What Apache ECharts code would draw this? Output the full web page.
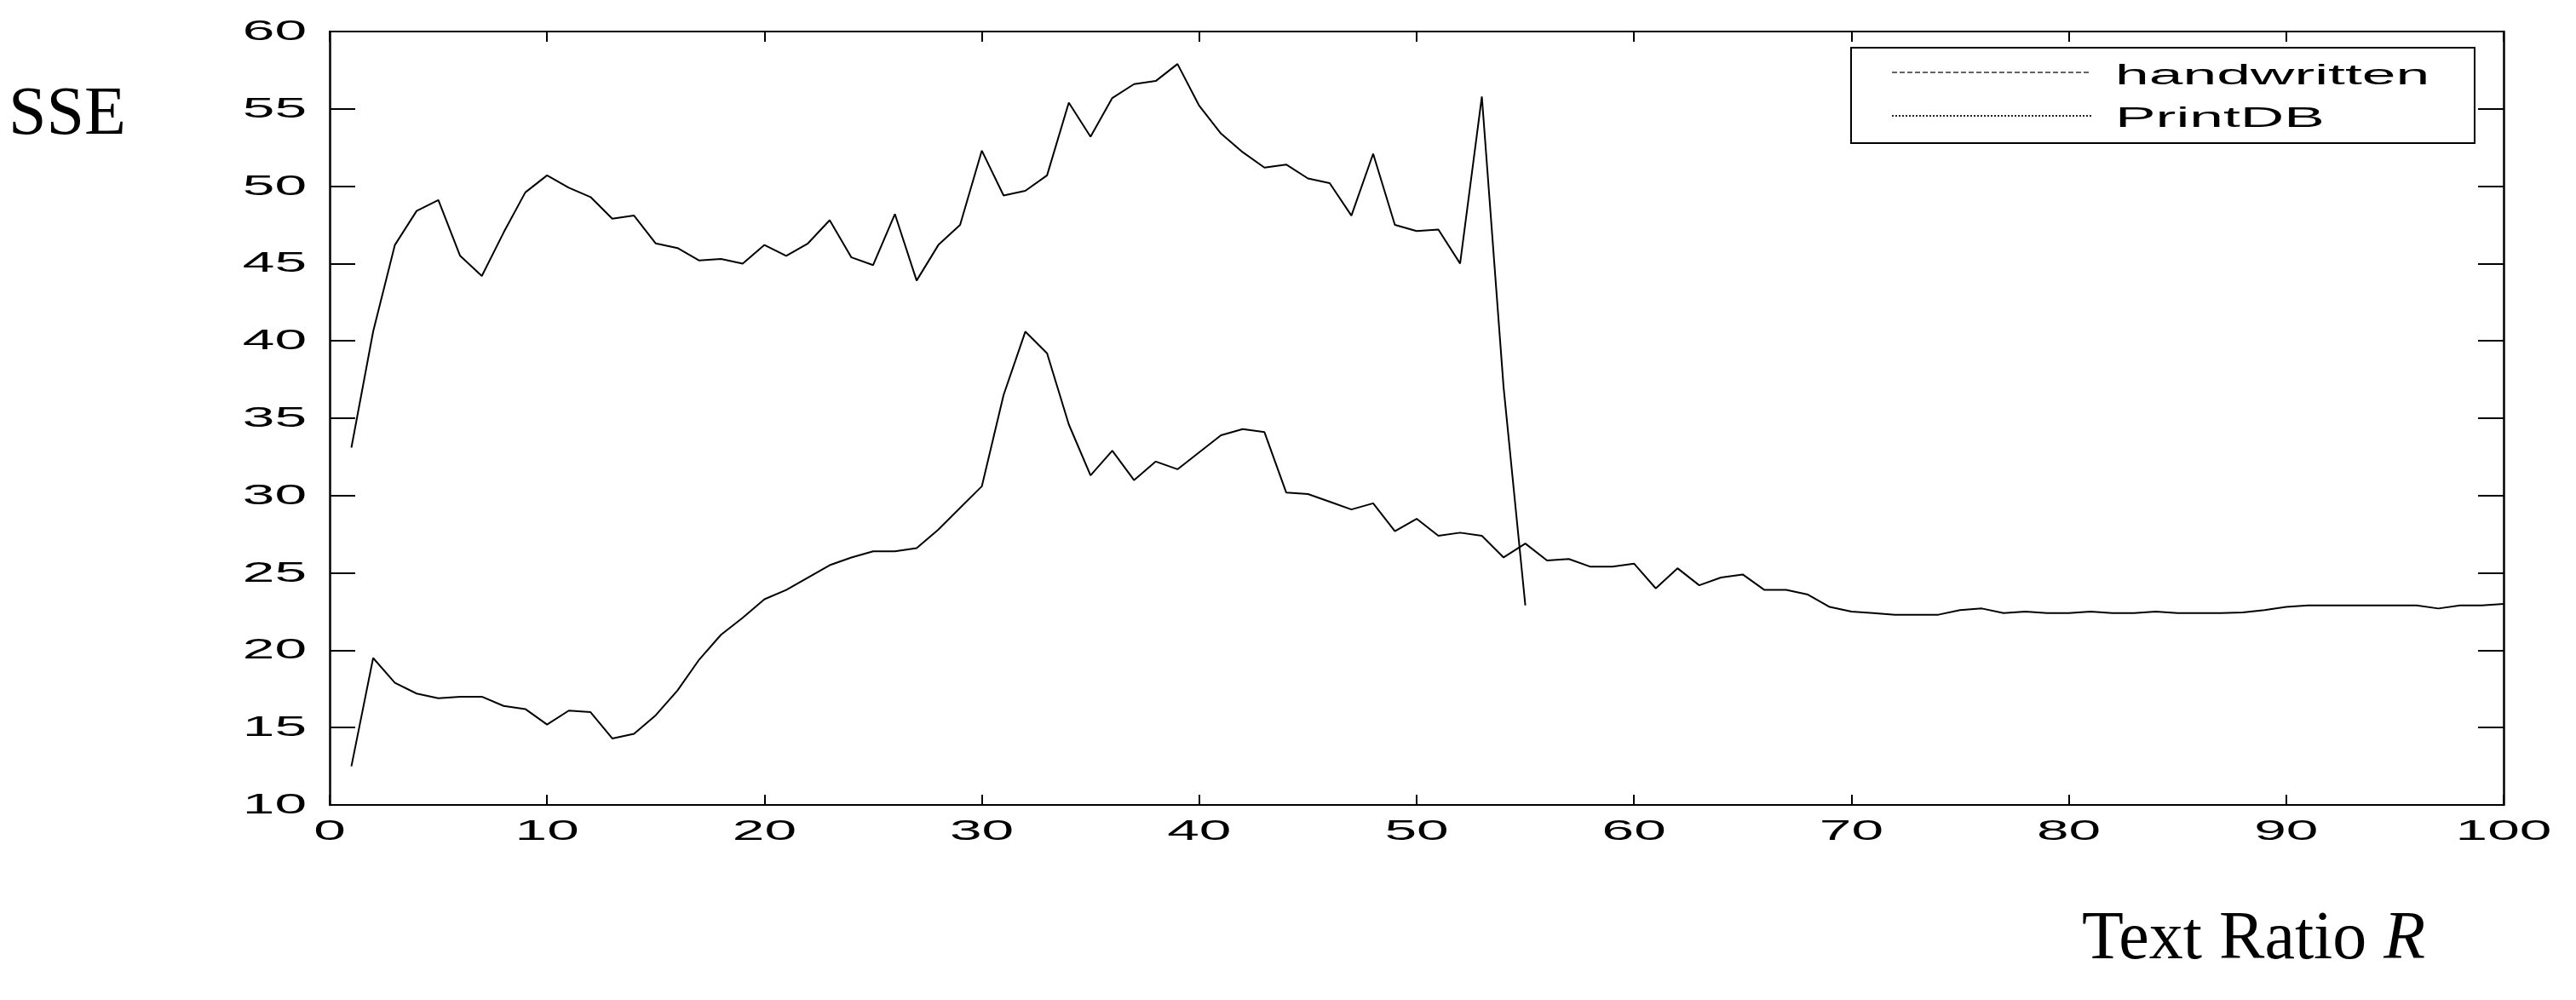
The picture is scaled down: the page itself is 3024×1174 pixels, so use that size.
<!DOCTYPE html>
<html lang="en">
<head>
	<meta charset="UTF-8">
	<title>SSE - Text Ratio R</title>
	<style>
		html,body{background-color:#fff;height:100%;overflow:hidden;margin:0;padding:0;}
		#main{width:3024px;height:1174px;}
	</style>
</head>
<body>
	<div id="main"></div>
	<script src="https://cdn.jsdelivr.net/npm/echarts@6/dist/echarts.min.js"></script>
	<script>
	// tick labels
	var xTicks = [0, 10, 20, 30, 40, 50, 60, 70, 80, 90, 100];
	var yTicks = [10, 15, 20, 25, 30, 35, 40, 45, 50, 55, 60];
	var seriesNames = ['handwritten', 'PrintDB'];

	// SSE for text ratio R = 1..100
	var handwritten = [
		12.5, 19.5, 17.9, 17.2, 16.9, 17.0, 17.0, 16.4, 16.2, 15.2,
		16.1, 16.0, 14.3, 14.6, 15.8, 17.4, 19.4, 21.0, 22.1, 23.3,
		23.9, 24.7, 25.5, 26.0, 26.4, 26.4, 26.6, 27.8, 29.2, 30.6,
		36.5, 40.6, 39.2, 34.6, 31.3, 32.9, 31.0, 32.2, 31.7, 32.8,
		33.9, 34.3, 34.1, 30.2, 30.1, 29.6, 29.1, 29.5, 27.7, 28.5,
		27.4, 27.6, 27.4, 26.0, 26.9, 25.8, 25.9, 25.4, 25.4, 25.6,
		24.0, 25.3, 24.2, 24.7, 24.9, 23.9, 23.9, 23.6, 22.8, 22.5,
		22.4, 22.3, 22.3, 22.3, 22.6, 22.7, 22.4, 22.5, 22.4, 22.4,
		22.5, 22.4, 22.4, 22.5, 22.4, 22.4, 22.4, 22.45, 22.6, 22.8,
		22.9, 22.9, 22.9, 22.9, 22.9, 22.9, 22.7, 22.9, 22.9, 23.0
	];
	// SSE for text ratio R = 1..55
	var printDB = [
		33.1, 40.6, 46.2, 48.4, 49.1, 45.5, 44.2, 47.0, 49.6, 50.7,
		49.9, 49.3, 47.9, 48.1, 46.3, 46.0, 45.2, 45.3, 45.0, 46.2,
		45.5, 46.3, 47.8, 45.4, 44.9, 48.2, 43.9, 46.2, 47.5, 52.3,
		49.4, 49.7, 50.7, 55.4, 53.2, 55.7, 56.6, 56.8, 57.9, 55.2,
		53.4, 52.2, 51.2, 51.4, 50.5, 50.2, 48.1, 52.1, 47.5, 47.1,
		47.2, 45.0, 55.8, 37.0, 22.9
	];

	function toPairs(arr){
		var out = [];
		for(var i = 0; i < arr.length; i++){
			out.push([i + 1, arr[i]]);
		}
		return out;
	}

	var sansFont = '"Liberation Sans", Arial, sans-serif';
	var serifFont = '"Liberation Serif", "Times New Roman", serif';

	var chart = echarts.init(document.getElementById('main'));

	var xAxisBase = {
		type: 'value', min: 0, max: 100, interval: 10,
		axisLine: {show: true, onZero: false, lineStyle: {color: '#000', width: 2}},
		axisTick: {show: true, inside: true, length: 12, lineStyle: {color: '#000', width: 2}},
		axisLabel: {show: false},
		splitLine: {show: false}
	};
	var yAxisBase = {
		type: 'value', min: 10, max: 60, interval: 5,
		axisLine: {show: true, onZero: false, lineStyle: {color: '#000', width: 2.5}},
		axisTick: {show: true, inside: true, length: 30, lineStyle: {color: '#000', width: 2}},
		axisLabel: {show: false},
		splitLine: {show: false}
	};

	var option = {
		backgroundColor: '#fff',
		animation: false,
		grid: {left: 387, right: 85, top: 37, bottom: 229},
		xAxis: [
			Object.assign({}, xAxisBase, {position: 'bottom'}),
			Object.assign({}, xAxisBase, {position: 'top'})
		],
		yAxis: [
			Object.assign({}, yAxisBase, {position: 'left'}),
			Object.assign({}, yAxisBase, {position: 'right'})
		],
		series: [{
			name: seriesNames[0],
			type: 'line',
			symbol: 'none',
			lineStyle: {color: '#000', width: 2},
			data: toPairs(handwritten)
		}, {
			name: seriesNames[1],
			type: 'line',
			symbol: 'none',
			lineStyle: {color: '#000', width: 2},
			data: toPairs(printDB)
		}]
	};
	chart.setOption(option);

	// wide sans labels, placed through the axis scales
	var els = [];
	xTicks.forEach(function(v){
		var p = chart.convertToPixel({gridIndex: 0}, [v, 10]);
		els.push({
			type: 'text', x: p[0], y: p[1] + 32, scaleX: 2.05, z: 100,
			style: {text: String(v), font: '33px ' + sansFont, fill: '#000', align: 'center', verticalAlign: 'middle'}
		});
	});
	yTicks.forEach(function(v){
		var p = chart.convertToPixel({gridIndex: 0}, [0, v]);
		els.push({
			type: 'text', x: p[0] - 27, y: p[1] + 1, scaleX: 2.05, z: 100,
			style: {text: String(v), font: '33px ' + sansFont, fill: '#000', align: 'right', verticalAlign: 'middle'}
		});
	});

	// axis titles
	els.push({
		type: 'text', x: 10, y: 136, z: 100,
		style: {text: 'SSE', font: '80px ' + serifFont, fill: '#000', align: 'left', verticalAlign: 'middle'}
	});
	els.push({
		type: 'text', x: 2444, y: 1104, z: 100,
		style: {
			text: 'Text Ratio {i|R}', font: '80px ' + serifFont, fill: '#000', align: 'left', verticalAlign: 'middle',
			rich: {i: {fontStyle: 'italic', fontSize: 80, fontFamily: serifFont, fill: '#000'}}
		}
	});

	// legend box
	els.push({
		type: 'rect', z: 90,
		shape: {x: 2173, y: 56, width: 732, height: 112},
		style: {fill: '#fff', stroke: '#000', lineWidth: 2}
	});
	els.push({
		type: 'line', z: 100,
		shape: {x1: 2221, y1: 85, x2: 2455, y2: 85},
		style: {stroke: '#333', lineWidth: 1.5, lineDash: [6, 3]}
	});
	els.push({
		type: 'line', z: 100,
		shape: {x1: 2221, y1: 136, x2: 2455, y2: 136},
		style: {stroke: '#222', lineWidth: 2, lineDash: [2, 2]}
	});
	els.push({
		type: 'text', x: 2483, y: 90, scaleX: 2.1, z: 100,
		style: {text: seriesNames[0], font: '34px ' + sansFont, fill: '#000', align: 'left', verticalAlign: 'middle'}
	});
	els.push({
		type: 'text', x: 2483, y: 140, scaleX: 2.1, z: 100,
		style: {text: seriesNames[1], font: '34px ' + sansFont, fill: '#000', align: 'left', verticalAlign: 'middle'}
	});

	chart.setOption({graphic: els});
	</script>
</body>
</html>
